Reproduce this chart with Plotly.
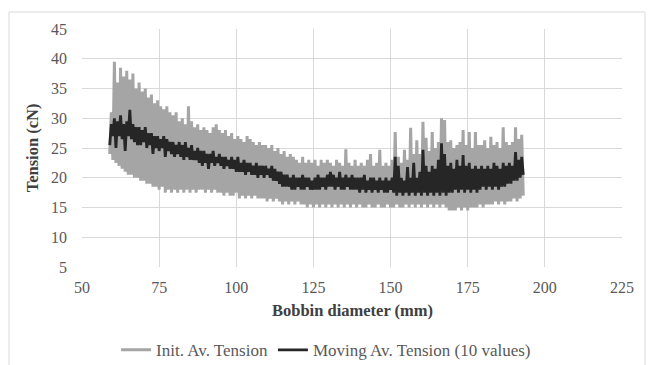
import numpy as np
import plotly.graph_objects as go

# Bobbin diameter range (mm) of the recorded series
X_START = 59.0
X_STEP = 0.5

# Init. Av. Tension (cN), 0.5 mm steps from 59 mm
init_tension = [
    24, 31, 23, 39.5, 22.5, 36, 22, 38.5, 21.5, 37, 21, 38, 20.5, 36.5, 20.5, 37.5, 20, 35, 20, 36,
    19.5, 34.5, 19.5, 35, 19, 33.5, 19, 34, 18.5, 32.5, 18.5, 33, 18, 32, 18.5, 31.5, 17.5, 32, 18, 31,
    17.5, 30.5, 18, 31, 17.5, 29.5, 18, 30, 17.5, 29, 18, 32, 17.5, 29.5, 18, 28.5, 17.5, 29, 18, 28,
    18, 28.5, 17.5, 28, 18, 27.5, 17.5, 28.5, 18, 29, 17.5, 28, 17.5, 27.5, 17, 28, 17.5, 27, 17, 27.5,
    17, 26.5, 17.5, 27, 16.5, 26.5, 17, 26, 16.5, 27, 17, 26.5, 16.5, 26, 17, 25.5, 16.5, 26, 16.5, 25.5,
    16.5, 25.5, 16, 25, 16.5, 25.5, 16, 24.5, 16.5, 25, 16, 24, 15.5, 24.5, 16, 23.5, 15.5, 24, 16, 23.5,
    15.5, 23, 16, 22.5, 15.5, 23.5, 15.5, 22.5, 15, 23, 15.5, 22.5, 15, 23, 15.5, 22, 15, 23, 15.5, 22.5,
    15, 23, 15.5, 22.5, 15, 22, 15.5, 23, 15, 22.5, 15.5, 22, 15, 24.8, 15.5, 22.5, 15, 22, 15.5, 23,
    15, 22, 15.5, 22.5, 15, 22, 15, 23, 15.5, 24, 15, 22, 15, 22.5, 15.5, 24.7, 15, 22, 15, 22.5,
    15.5, 22, 15, 23, 15, 27.7, 15.5, 23.5, 15, 22.5, 15, 24.7, 15.5, 23, 15, 28.4, 15.5, 24, 15, 26.3,
    15.5, 24, 15, 29.4, 15.5, 26.7, 15, 24.5, 15.5, 27.7, 15, 25, 15.5, 26, 15, 30, 15.5, 29.7, 15, 26,
    14.5, 26.3, 14.5, 25, 14.5, 25.5, 15, 26, 14.5, 28, 15, 25.5, 14.5, 27.7, 15, 25, 15, 27.7, 15, 25.5,
    15.5, 25.5, 15, 26.3, 15.5, 25, 15.5, 26.9, 15.5, 25.5, 16, 26, 15.5, 25, 16, 28.5, 15.5, 26, 16, 25.5,
    16, 26, 16.5, 28.5, 16, 26.5, 16.5, 27.2, 17,
]

# Moving Av. Tension (10 values) (cN), 0.5 mm steps from 59 mm
moving_tension = [
    25.5, 29, 27, 30, 25, 29.5, 27, 30.5, 26.5, 29, 24.5, 29.5, 27, 31.4, 26.5, 29, 26, 28.5, 25.5, 28.5,
    25.5, 28, 26, 28.5, 25, 27.5, 25.5, 27.5, 24, 27, 25, 27, 24.5, 26.5, 25, 27, 23.5, 26.5, 24.5, 26,
    24, 26, 23.5, 25.5, 24, 26, 23.5, 25.5, 23, 26, 23.5, 25, 23, 25.5, 23, 24.5, 23, 25, 22.5, 24.5,
    22, 24.5, 22.5, 24, 21.5, 24, 22.5, 24.5, 22, 23.5, 22.5, 24, 22, 23.5, 21.5, 23.5, 22, 23, 21.5, 23.5,
    21.5, 23, 21, 23.5, 21, 22.5, 21, 23, 20.5, 22.5, 21, 22.5, 20.5, 22, 20.5, 22.5, 20, 22, 20.5, 22,
    20, 22, 20.5, 21.5, 20, 22, 19.5, 21.5, 19.5, 21, 19, 21, 18.5, 20.5, 18.5, 20.5, 18.5, 20, 18, 20.5,
    18, 20, 18.5, 20, 18, 20.5, 18, 20, 18.5, 20, 18, 19.5, 18, 20, 18, 20.5, 18, 20, 18.5, 20,
    18, 20.5, 18.5, 21, 18.5, 20.5, 18, 20, 18.5, 21, 18, 20, 18, 20.5, 18.5, 20, 18, 20.5, 18, 20,
    18, 20, 17.5, 20, 18, 20.5, 17.5, 19.5, 18, 20, 17.5, 20, 18, 19.5, 17.5, 20, 18, 19.5, 17.5, 20,
    17.5, 19.5, 18, 20, 17.5, 23.5, 17, 22, 17.5, 20, 17, 19.5, 17.5, 21.8, 17, 20, 17.5, 22.5, 17, 20,
    17.5, 21, 17, 24.7, 17.5, 22, 17, 21, 17.5, 22, 17, 21.5, 17.5, 23, 17, 25.8, 17.5, 24, 17, 22,
    17.5, 22.5, 17.5, 21.5, 18, 23, 17.5, 22, 18, 23.8, 17.5, 22, 18, 22.5, 17.5, 21.5, 18, 22, 17.5, 21.5,
    18, 22, 18.5, 21.5, 18, 22, 18.5, 21.5, 18, 22.5, 18.5, 22, 18, 21.5, 18.5, 22.5, 18.5, 22, 19, 22.5,
    19, 22, 19.5, 24.3, 19.5, 23, 20, 23.5, 20.5,
]

x_init = X_START + X_STEP * np.arange(len(init_tension))
x_mov = X_START + X_STEP * np.arange(len(moving_tension))

x_ticks = [50, 75, 100, 125, 150, 175, 200, 225]
y_ticks = [5, 10, 15, 20, 25, 30, 35, 40, 45]

FONT = "Liberation Serif"

fig = go.Figure()
fig.add_trace(go.Scatter(x=x_init, y=init_tension, mode="lines",
                         name="Init. Av. Tension",
                         line=dict(color="#a5a5a5", width=3, simplify=False)))
fig.add_trace(go.Scatter(x=x_mov, y=moving_tension, mode="lines",
                         name="Moving Av. Tension (10 values)",
                         line=dict(color="#262626", width=2.8, simplify=False)))

fig.update_layout(
    width=648, height=365,
    margin=dict(l=82, r=26, t=29, b=98, autoexpand=False),
    paper_bgcolor="white", plot_bgcolor="white",
    font=dict(family=FONT, size=16, color="#595959"),
    showlegend=True,
    legend=dict(orientation="h", x=0.452, xanchor="center", y=-0.35, yanchor="middle",
                font=dict(family=FONT, size=17, color="#595959"),
                itemwidth=30, bgcolor="rgba(0,0,0,0)"),
    xaxis=dict(range=[50, 225], tickvals=x_ticks, showgrid=True, gridcolor="#d9d9d9",
               gridwidth=1, zeroline=False, showline=False, ticks="",
               ticklabelstandoff=9,
               tickfont=dict(family=FONT, size=16, color="#595959")),
    yaxis=dict(range=[5, 45], tickvals=y_ticks, showgrid=True, gridcolor="#d9d9d9",
               gridwidth=1, zeroline=False, showline=False, ticks="",
               ticklabelstandoff=14,
               tickfont=dict(family=FONT, size=16, color="#595959")),
    annotations=[
        dict(text="<b>Bobbin diameter (mm)</b>", xref="paper", yref="paper",
             x=0.5, y=-0.181, xanchor="center", yanchor="middle", showarrow=False,
             font=dict(family=FONT, size=16.5, color="#404040")),
        dict(text="<b>Tension (cN)</b>", xref="paper", yref="paper",
             x=-0.092, y=0.5, xanchor="center", yanchor="middle", showarrow=False,
             textangle=-90, font=dict(family=FONT, size=16.5, color="#404040")),
    ],
    shapes=[
        dict(type="rect", xref="paper", yref="paper",
             x0=(9 - 82) / 540, x1=(645 - 82) / 540,
             y0=-0.45, y1=(267 - 12) / 238,
             line=dict(color="#d9d9d9", width=1), fillcolor="rgba(0,0,0,0)", layer="below"),
    ],
)

fig.write_html("out.html")
